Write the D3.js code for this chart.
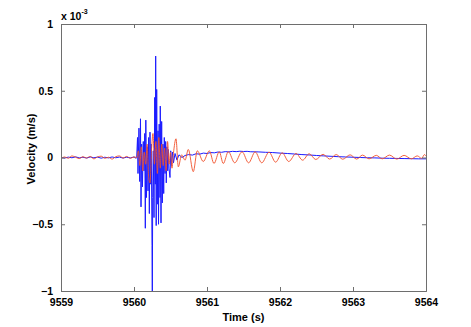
<!DOCTYPE html>
<html>
<head>
<meta charset="utf-8">
<script src="https://cdn.jsdelivr.net/npm/d3@7"></script>
<style>
  html, body { margin: 0; padding: 0; background: #fff; }
  svg { display: block; }
  text { font-family: "Liberation Sans", Arial, Helvetica, sans-serif; font-weight: bold; fill: #000; }
</style>
</head>
<body>
<svg id="chart" width="471" height="327"></svg>
<script>
// Velocity in units of 1e-3 m/s, time in seconds
const blueTime = [
  9559.00, 9559.05, 9559.10, 9559.15, 9559.20, 9559.25, 9559.30, 9559.35, 9559.40, 9559.45,
  9559.50, 9559.55, 9559.60, 9559.65, 9559.70, 9559.75, 9559.80, 9559.85, 9559.90, 9559.95,
  9560.00, 9560.030,
  9560.037, 9560.048, 9560.055, 9560.068, 9560.078, 9560.089, 9560.096, 9560.105, 9560.116, 9560.127,
  9560.137, 9560.147, 9560.155, 9560.162, 9560.171, 9560.182, 9560.192, 9560.201, 9560.210, 9560.219,
  9560.229, 9560.237, 9560.247, 9560.251, 9560.256, 9560.264, 9560.274, 9560.284, 9560.292, 9560.297,
  9560.304, 9560.311, 9560.319, 9560.329, 9560.336, 9560.345, 9560.356, 9560.360, 9560.370, 9560.379,
  9560.388, 9560.397, 9560.407, 9560.415, 9560.425, 9560.434, 9560.442, 9560.452, 9560.462, 9560.470,
  9560.479, 9560.493, 9560.503, 9560.514, 9560.527, 9560.541, 9560.562, 9560.589, 9560.616, 9560.658,
  9560.70, 9560.75, 9560.80, 9560.85, 9560.90, 9560.95, 9561.00, 9561.05, 9561.10, 9561.15,
  9561.20, 9561.25, 9561.30, 9561.35, 9561.40, 9561.45, 9561.50, 9561.55, 9561.60, 9561.70,
  9561.80, 9561.90, 9562.00, 9562.10, 9562.20, 9562.30, 9562.40, 9562.50, 9562.60, 9562.70,
  9562.80, 9562.90, 9563.00, 9563.10, 9563.20, 9563.30, 9563.40, 9563.50, 9563.60, 9563.70,
  9563.80, 9563.90, 9564.00
];
const blueVel = [
  0.000, -0.004, 0.003, -0.002, 0.005, -0.003, 0.002, -0.004, 0.004, -0.002,
  0.003, -0.005, 0.002, -0.003, 0.004, -0.002, 0.003, -0.004, 0.002, -0.003,
  0.004, -0.006,
  0.00, 0.15, -0.12, 0.22, -0.18, 0.29, -0.37, 0.10, -0.22, 0.12,
  -0.10, 0.18, -0.53, 0.28, -0.30, 0.08, -0.25, 0.15, -0.42, 0.19,
  -0.20, 0.10, -0.66, -1.05, -0.30, 0.05, -0.45, 0.45, -0.20, 0.76,
  -0.51, 0.51, -0.35, 0.20, -0.50, 0.25, -0.30, 0.385, -0.49, 0.27,
  -0.34, 0.10, -0.27, 0.15, -0.12, 0.12, -0.19, 0.08, -0.10, 0.06,
  -0.08, -0.15, 0.05, -0.06, 0.04, -0.04, 0.03, -0.02, 0.02, 0.00,
  0.015, 0.022, 0.018, 0.028, 0.025, 0.033, 0.030, 0.037, 0.035, 0.041,
  0.039, 0.044, 0.042, 0.046, 0.044, 0.047, 0.045, 0.046, 0.043, 0.042,
  0.039, 0.037, 0.033, 0.030, 0.026, 0.022, 0.019, 0.015, 0.012, 0.009,
  0.006, 0.004, 0.002, 0.000, -0.002, -0.003, -0.005, -0.006, -0.007, -0.008,
  -0.009, -0.010, -0.010
];

const redTime = [
  9559.00, 9559.05, 9559.10, 9559.15, 9559.20, 9559.25, 9559.30, 9559.35, 9559.40, 9559.45,
  9559.50, 9559.55, 9559.60, 9559.65, 9559.70, 9559.75, 9559.80, 9559.85, 9559.90, 9559.95,
  9560.00, 9560.04,
  9560.06, 9560.08, 9560.10, 9560.12, 9560.14, 9560.16, 9560.18, 9560.20, 9560.22, 9560.24,
  9560.26, 9560.28, 9560.30, 9560.32, 9560.34, 9560.36, 9560.38, 9560.40, 9560.42, 9560.44,
  9560.46, 9560.48, 9560.50, 9560.52, 9560.54, 9560.575, 9560.607, 9560.653, 9560.699, 9560.744,
  9560.812, 9560.867, 9560.949, 9561.032, 9561.096, 9561.168, 9561.223, 9561.292, 9561.38, 9561.48,
  9561.57, 9561.66, 9561.75, 9561.85, 9561.94, 9562.03, 9562.12, 9562.22, 9562.31, 9562.40,
  9562.49, 9562.59, 9562.68, 9562.77, 9562.86, 9562.96, 9563.05, 9563.13, 9563.22, 9563.32,
  9563.40, 9563.50, 9563.60, 9563.70, 9563.80, 9563.88, 9563.94, 9563.98, 9564.00
];
const redVel = [
  -0.010, 0.004, -0.006, 0.012, 0.002, -0.008, 0.006, -0.004, 0.008, -0.010,
  0.004, 0.010, -0.006, 0.002, -0.012, 0.006, 0.012, -0.004, 0.008, -0.006,
  0.004, 0.000,
  0.05, -0.06, 0.08, -0.10, 0.04, -0.05, 0.10, -0.14, -0.19, 0.05,
  0.18, -0.05, 0.12, -0.12, 0.15, -0.08, 0.10, -0.06, 0.07, -0.10,
  0.12, -0.05, 0.04, -0.08, 0.03, 0.14, -0.07, 0.02, -0.02, 0.06,
  -0.106, 0.05, -0.03, 0.05, -0.045, 0.043, -0.045, 0.043, -0.040, 0.043,
  -0.040, 0.042, -0.040, 0.040, -0.035, 0.035, -0.030, 0.030, -0.020, 0.028,
  -0.015, 0.024, -0.012, 0.022, -0.013, 0.020, -0.012, 0.018, -0.010, 0.016,
  -0.010, 0.018, -0.012, 0.016, -0.010, 0.012, -0.006, 0.022, 0.010
];

const xTicks = [9559, 9560, 9561, 9562, 9563, 9564];
const yTicks = [-1, -0.5, 0, 0.5, 1];

const svg = d3.select("#chart");
const plotLeft = 61, plotRight = 426, plotTop = 24, plotBottom = 291;

const x = d3.scaleLinear().domain([9559, 9564]).range([plotLeft, plotRight]);
const y = d3.scaleLinear().domain([-1, 1]).range([plotBottom, plotTop]);

svg.append("defs").append("clipPath").attr("id", "plotClip")
  .append("rect").attr("x", plotLeft).attr("y", plotTop)
  .attr("width", plotRight - plotLeft).attr("height", plotBottom - plotTop);

const plot = svg.append("g").attr("clip-path", "url(#plotClip)");

const blueLine = d3.line().x(d => x(d[0])).y(d => y(d[1]));
const redLine = d3.line().x(d => x(d[0])).y(d => y(d[1])).curve(d3.curveMonotoneX);

plot.append("path")
  .datum(blueTime.map((t, i) => [t, blueVel[i]]))
  .attr("fill", "none").attr("stroke", "#1a1aff").attr("stroke-width", 1)
  .attr("d", blueLine);

plot.append("path")
  .datum(redTime.map((t, i) => [t, redVel[i]]))
  .attr("fill", "none").attr("stroke", "#f0502a").attr("stroke-width", 0.9)
  .attr("d", redLine);

// Axes: ticks point inward, boxed frame
const tickLen = 4;
const axisColor = "#6e6e6e";

const xAxisBottom = d3.axisBottom(x).tickValues(xTicks).tickSize(-tickLen).tickPadding(8).tickFormat(d3.format("d"));
const xAxisTop = d3.axisTop(x).tickValues(xTicks).tickSize(-tickLen).tickFormat("");
const yAxisLeft = d3.axisLeft(y).tickValues(yTicks).tickSize(-tickLen).tickPadding(8).tickFormat(d => d3.format("")(d));
const yAxisRight = d3.axisRight(y).tickValues(yTicks).tickSize(-tickLen).tickFormat("");

function styleAxis(g) {
  g.select(".domain").attr("stroke", axisColor);
  g.selectAll(".tick line").attr("stroke", axisColor);
  g.selectAll(".tick text").attr("font-size", 10.5).attr("font-family", null).attr("fill", "#000");
}

svg.append("g").attr("transform", `translate(0,${plotBottom})`).call(xAxisBottom).call(styleAxis);
svg.append("g").attr("transform", `translate(0,${plotTop})`).call(xAxisTop).call(styleAxis);
svg.append("g").attr("transform", `translate(${plotLeft},0)`).call(yAxisLeft).call(styleAxis);
svg.append("g").attr("transform", `translate(${plotRight},0)`).call(yAxisRight).call(styleAxis);

svg.selectAll(".domain").attr("stroke-width", 1);

// Axis labels
svg.append("text")
  .attr("x", (plotLeft + plotRight) / 2).attr("y", 321)
  .attr("text-anchor", "middle").attr("font-size", 11)
  .text("Time (s)");

svg.append("text")
  .attr("transform", `translate(35,149) rotate(-90)`)
  .attr("text-anchor", "middle").attr("font-size", 11)
  .text("Velocity (m/s)");

// Exponent multiplier
const mult = svg.append("text").attr("x", plotLeft).attr("y", 20).attr("font-size", 10.5);
mult.append("tspan").text("x 10");
mult.append("tspan").attr("font-size", 7).attr("dy", -6).text("-3");
</script>
</body>
</html>
